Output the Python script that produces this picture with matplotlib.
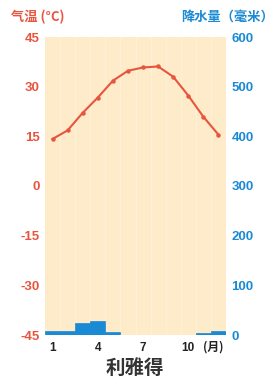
import matplotlib
matplotlib.use("Agg")
import matplotlib.pyplot as plt

plt.rcParams['font.family'] = ['Noto Sans CJK SC', 'DejaVu Sans']

months = list(range(1, 13))
temps = [14.2, 16.8, 22.1, 26.7, 31.8, 34.8, 35.8, 36.1, 33.0, 27.3, 20.9, 15.5]
precip = [9, 9, 24, 28, 6, 0.8, 0.8, 0.8, 0.8, 1, 4, 9]
left_ticks = [45, 30, 15, 0, -15, -30, -45]
right_ticks = [600, 500, 400, 300, 200, 100, 0]
x_ticks = [1, 4, 7, 10]
city = "利雅得"

red = "#E8553E"
blue = "#1A8AD4"
bg = "#FDEBC9"
numfont = ['Liberation Sans', 'DejaVu Sans']

fig = plt.figure(figsize=(2.75, 3.79), dpi=100)
ax2 = fig.add_axes([45/275, 1-335/379, 181/275, 298/379])
ax2.set_facecolor(bg)
ax = ax2.twinx()  # temperature axis placed on top
ax2.bar(months, precip, width=1.0, color=blue, edgecolor=blue, linewidth=0.5, zorder=2)
ax2.set_ylim(0, 600)
ax2.set_xlim(0.5, 12.5)
for m in range(1, 12):
    ax2.axvline(m + 0.5, color='white', lw=0.6, alpha=0.35, zorder=1)

ax.plot(months, temps, color=red, lw=1.5, marker='o', ms=2.2, zorder=3)
ax.set_ylim(-45, 45)
ax.set_xlim(0.5, 12.5)

for a in (ax, ax2):
    for s in a.spines.values():
        s.set_visible(False)

ax.yaxis.tick_left()
ax2.yaxis.tick_right()
ax.set_yticks(left_ticks)
ax.set_yticklabels([str(t) for t in left_ticks], color=red, fontsize=9.5,
                   fontweight='bold', family=numfont)
ax.tick_params(axis='y', length=0, pad=4)
ax2.set_yticks(right_ticks)
ax2.set_yticklabels([str(t) for t in right_ticks], color=blue, fontsize=9.5,
                    fontweight='bold', family=numfont)
ax2.tick_params(axis='y', length=0, pad=4)
ax2.set_xticks(x_ticks)
ax2.set_xticklabels([str(t) for t in x_ticks], color='#222222', fontsize=8.5,
                    fontweight='bold', family=numfont)
ax2.tick_params(axis='x', length=0, pad=5)
ax.tick_params(axis='x', length=0, labelbottom=False)

fig.text(203/275, 1-347/379, "(月)", color='#222222', fontsize=8.5, fontweight='bold',
         ha='left', va='center')

fig.text(11/275, 1-17/379, "气温 (°C)", color=red, fontsize=9.5, fontweight='bold',
         ha='left', va='center')
fig.text(274/275, 1-17/379, "降水量（毫米）", color=blue, fontsize=9.5, fontweight='bold',
         ha='right', va='center')
fig.text(135/275, 1-368/379, city, color='#333333', fontsize=14, fontweight='bold',
         ha='center', va='center')

fig.savefig("out.png", dpi=100)
